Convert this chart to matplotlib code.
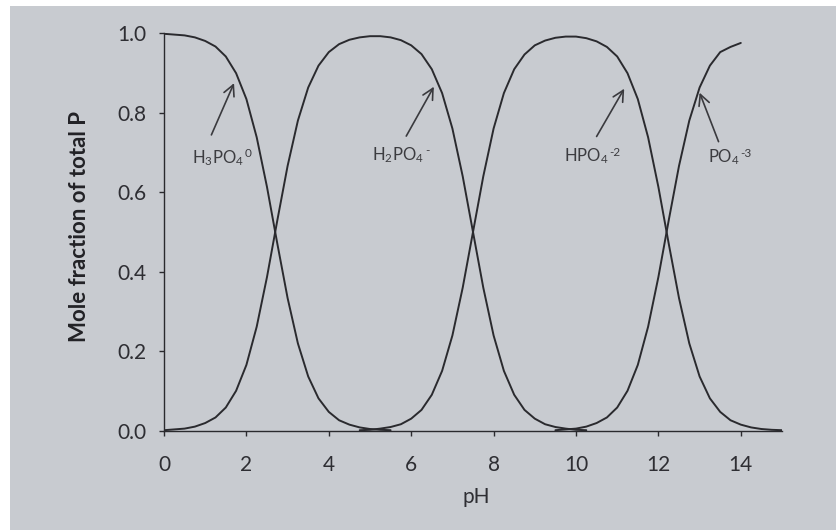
import numpy as np
import matplotlib
matplotlib.use("Agg")
import matplotlib.pyplot as plt
from matplotlib.patches import Rectangle

plt.rcParams["font.family"] = ["Lato", "DejaVu Sans"]
plt.rcParams["mathtext.default"] = "regular"

PAPER = "#c8cbd0"
INK = "#2a2a2e"
TEXT = "#2e2e33"

nan = np.nan

# pH grid, 0.25 steps
PH = [0.00, 0.25, 0.50, 0.75, 1.00, 1.25, 1.50, 1.75, 2.00, 2.25, 2.50, 2.75,
      3.00, 3.25, 3.50, 3.75, 4.00, 4.25, 4.50, 4.75, 5.00, 5.25, 5.50, 5.75,
      6.00, 6.25, 6.50, 6.75, 7.00, 7.25, 7.50, 7.75, 8.00, 8.25, 8.50, 8.75,
      9.00, 9.25, 9.50, 9.75, 10.00, 10.25, 10.50, 10.75, 11.00, 11.25, 11.50, 11.75,
      12.00, 12.25, 12.50, 12.75, 13.00, 13.25, 13.50, 13.75, 14.00, 14.25, 14.50, 14.75,
      15.00]

H3PO4 = [0.998, 0.996, 0.994, 0.989, 0.980, 0.966, 0.941, 0.899, 0.834, 0.738, 0.613, 0.471,
         0.334, 0.220, 0.137, 0.082, 0.048, 0.027, 0.016, 0.009, 0.005, 0.003, 0.002, nan,
         nan, nan, nan, nan, nan, nan, nan, nan, nan, nan, nan, nan,
         nan, nan, nan, nan, nan, nan, nan, nan, nan, nan, nan, nan,
         nan, nan, nan, nan, nan, nan, nan, nan, nan, nan, nan, nan,
         nan]

H2PO4 = [0.002, 0.004, 0.006, 0.011, 0.020, 0.034, 0.059, 0.101, 0.166, 0.262, 0.387, 0.529,
         0.666, 0.780, 0.863, 0.918, 0.952, 0.972, 0.983, 0.989, 0.992, 0.992, 0.989, 0.982,
         0.969, 0.947, 0.909, 0.849, 0.760, 0.640, 0.500, 0.360, 0.240, 0.151, 0.091, 0.053,
         0.031, 0.017, 0.010, 0.006, 0.003, 0.002, nan, nan, nan, nan, nan, nan,
         nan, nan, nan, nan, nan, nan, nan, nan, nan, nan, nan, nan,
         nan]

HPO4 = [nan, nan, nan, nan, nan, nan, nan, nan, nan, nan, nan, nan,
        nan, nan, nan, nan, nan, nan, nan, 0.002, 0.003, 0.006, 0.010, 0.017,
        0.031, 0.053, 0.091, 0.151, 0.240, 0.360, 0.500, 0.640, 0.760, 0.849, 0.909, 0.946,
        0.969, 0.981, 0.988, 0.991, 0.991, 0.987, 0.979, 0.965, 0.941, 0.899, 0.834, 0.738,
        0.613, 0.471, 0.334, 0.220, 0.137, 0.082, 0.048, 0.027, 0.016, 0.009, 0.005, 0.003,
        0.002]

PO4 = [nan, nan, nan, nan, nan, nan, nan, nan, nan, nan, nan, nan,
       nan, nan, nan, nan, nan, nan, nan, nan, nan, nan, nan, nan,
       nan, nan, nan, nan, nan, nan, nan, nan, nan, nan, nan, nan,
       nan, nan, 0.002, 0.004, 0.006, 0.011, 0.020, 0.034, 0.059, 0.101, 0.166, 0.262,
       0.387, 0.529, 0.666, 0.780, 0.863, 0.918, 0.952, 0.965, 0.975, nan, nan, nan,
       nan]

SPECIES = [H3PO4, H2PO4, HPO4, PO4]

# species labels: formula, charge, text anchor, arrow tail, arrow head (pH, fraction)
FORMULAS = ["H$_3$PO$_4$", "H$_2$PO$_4$", "HPO$_4$", "PO$_4$"]
CHARGES = ["0", "-", "-2", "-3"]
LABEL_XY = [(1.30, 0.673), (5.68, 0.681), (10.25, 0.677), (13.58, 0.674)]
TAIL_XY = [(1.15, 0.744), (5.88, 0.741), (10.50, 0.740), (13.46, 0.727)]
HEAD_XY = [(1.70, 0.874), (6.55, 0.865), (11.17, 0.860), (13.00, 0.850)]

X_TICKS = [0, 2, 4, 6, 8, 10, 12, 14]
Y_TICKS = [0.0, 0.2, 0.4, 0.6, 0.8, 1.0]

W, H = 837, 530
fig = plt.figure(figsize=(W / 100, H / 100), dpi=100)
fig.patch.set_facecolor("white")
fig.patches.append(Rectangle((10 / W, 0), 1, 1 - 6 / H, transform=fig.transFigure,
                             facecolor=PAPER, edgecolor="none", zorder=-10))

ax = fig.add_axes([164 / W, 1 - 431 / H, 618 / W, 398 / H])
ax.set_facecolor("none")

for frac in SPECIES:
    ax.plot(PH, frac, color=INK, lw=1.4, solid_capstyle="round")

for formula, charge, txy, tail, head in zip(FORMULAS, CHARGES, LABEL_XY, TAIL_XY, HEAD_XY):
    ax.annotate("", xy=head, xytext=tail,
                arrowprops=dict(arrowstyle="->,head_length=0.55,head_width=0.28",
                                color="#3a3a3e", lw=1.2, shrinkA=0, shrinkB=0,
                                mutation_scale=14))
    base = ax.text(txy[0], txy[1], formula, ha="center", va="baseline",
                   fontsize=12, color="#3c3c40")
    # charge written as a small raised label after the formula
    ax.annotate(charge, xy=(1, 0.72), xycoords=base, xytext=(0.8, 0),
                textcoords="offset points", ha="left", va="center",
                fontsize=8.5, color="#3c3c40")

ax.set_xlim(0, 15)
ax.set_ylim(0, 1)
ax.set_xticks(X_TICKS)
ax.set_yticks(Y_TICKS)
ax.set_yticklabels([f"{v:.1f}" for v in Y_TICKS])
ax.spines[["top", "right"]].set_visible(False)
for s in ["left", "bottom"]:
    ax.spines[s].set_color(INK)
    ax.spines[s].set_linewidth(1.0)
ax.tick_params(axis="x", direction="out", length=3.5, width=1.0, color=INK,
               pad=14, labelsize=15, labelcolor=TEXT)
ax.tick_params(axis="y", direction="out", length=3.5, width=1.0, color=INK,
               pad=9, labelsize=15, labelcolor=TEXT)

ax.set_xlabel("pH", fontsize=15, color=TEXT)
ax.xaxis.set_label_coords(0.506, -0.141)
ax.set_ylabel("Mole fraction of total P", fontsize=16, fontweight="bold", color="#222226")
ax.yaxis.set_label_coords(-0.1375, 0.515)
ax.yaxis.label.set_va("center")

fig.savefig("out.png", dpi=100, facecolor=fig.get_facecolor())
